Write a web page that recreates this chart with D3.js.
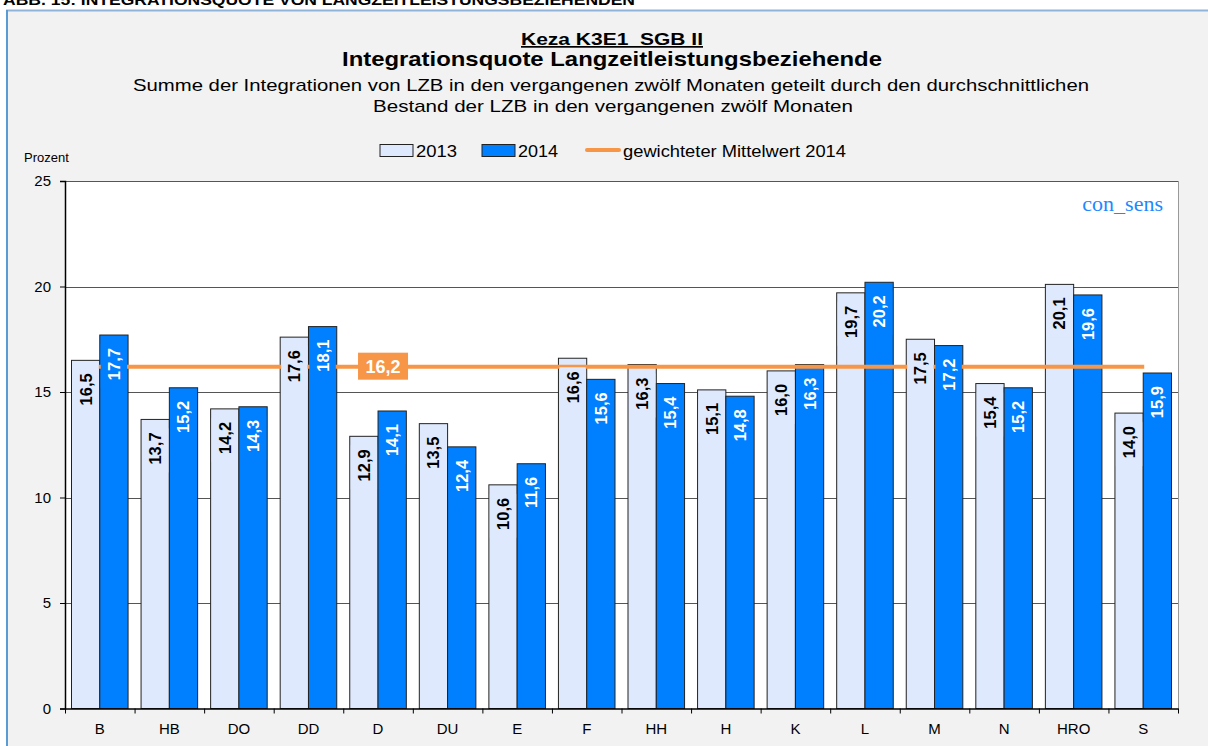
<!DOCTYPE html>
<html>
<head>
<meta charset="utf-8">
<script src="https://cdn.jsdelivr.net/npm/d3@7/dist/d3.min.js"></script>
<style>
  html, body { margin: 0; padding: 0; background: #fff; }
  svg { display: block; font-family: "Liberation Sans", Arial, sans-serif; }
</style>
</head>
<body>
<div id="chart"></div>
<script>
  // Werte
  const categories = ['B', 'HB', 'DO', 'DD', 'D', 'DU', 'E', 'F', 'HH', 'H', 'K', 'L', 'M', 'N', 'HRO', 'S'];
  const values2013 = [16.5, 13.7, 14.2, 17.6, 12.9, 13.5, 10.6, 16.6, 16.3, 15.1, 16.0, 19.7, 17.5, 15.4, 20.1, 14.0];
  const values2014 = [17.7, 15.2, 14.3, 18.1, 14.1, 12.4, 11.6, 15.6, 15.4, 14.8, 16.3, 20.2, 17.2, 15.2, 19.6, 15.9];
  const meanValue = 16.2;
  const yTicks = [0, 5, 10, 15, 20, 25];
  const seriesNames = ['2013', '2014'];

  const W = 1208, H = 746;
  const plot = { left: 65, right: 1178, top: 181, bottom: 708.5 };
  const fmt = v => d3.format('.1f')(v).replace('.', ',');

  const svg = d3.select('#chart').append('svg')
    .attr('width', W).attr('height', H);

  // Seitenkopf (im Original oben abgeschnitten)
  svg.append('text')
    .attr('x', 3).attr('y', 5)
    .attr('font-size', 14).attr('font-weight', 'bold')
    .attr('textLength', 632).attr('lengthAdjust', 'spacingAndGlyphs')
    .text('ABB. 15:  INTEGRATIONSQUOTE VON LANGZEITLEISTUNGSBEZIEHENDEN');

  // Panel
  svg.append('rect')
    .attr('x', 7).attr('y', 11).attr('width', W).attr('height', H)
    .attr('fill', '#f2f2f2');
  svg.append('line')
    .attr('x1', 6).attr('x2', W).attr('y1', 10.5).attr('y2', 10.5)
    .attr('stroke', '#8fb3d9').attr('stroke-width', 2);
  svg.append('line')
    .attr('x1', 7).attr('x2', 7).attr('y1', 10).attr('y2', H)
    .attr('stroke', '#5b9bd5').attr('stroke-width', 2);

  // Titel
  const cx = 612;
  svg.append('text')
    .attr('x', cx).attr('y', 45).attr('text-anchor', 'middle')
    .attr('font-size', 17).attr('font-weight', 'bold')
    .attr('text-decoration', 'underline')
    .attr('textLength', 182).attr('lengthAdjust', 'spacingAndGlyphs')
    .text('Keza K3E1\u00a0 SGB\u00a0II');
  svg.append('text')
    .attr('x', cx).attr('y', 66).attr('text-anchor', 'middle')
    .attr('font-size', 21).attr('font-weight', 'bold')
    .attr('textLength', 540).attr('lengthAdjust', 'spacingAndGlyphs')
    .text('Integrationsquote Langzeitleistungsbeziehende');
  svg.append('text')
    .attr('x', 611).attr('y', 91).attr('text-anchor', 'middle')
    .attr('font-size', 17)
    .attr('textLength', 956).attr('lengthAdjust', 'spacingAndGlyphs')
    .text('Summe der Integrationen von LZB in den vergangenen zwölf Monaten geteilt durch den durchschnittlichen');
  svg.append('text')
    .attr('x', 613).attr('y', 112).attr('text-anchor', 'middle')
    .attr('font-size', 17)
    .attr('textLength', 480).attr('lengthAdjust', 'spacingAndGlyphs')
    .text('Bestand der LZB in den vergangenen zwölf Monaten');

  // Legende
  const colors = { '2013': '#dfe9fd', '2014': '#0080ff' };
  const legend = svg.append('g').attr('font-size', 16);
  [[380, '2013', 41], [482, '2014', 40]].forEach(([lx, name, tl]) => {
    legend.append('rect')
      .attr('x', lx).attr('y', 144.5).attr('width', 33).attr('height', 12)
      .attr('fill', colors[name]).attr('stroke', '#222').attr('stroke-width', 1);
    legend.append('text')
      .attr('x', lx + 36).attr('y', 157)
      .attr('textLength', tl).attr('lengthAdjust', 'spacingAndGlyphs')
      .text(name);
  });
  legend.append('line')
    .attr('x1', 587).attr('x2', 619).attr('y1', 150).attr('y2', 150)
    .attr('stroke', '#f79646').attr('stroke-width', 4).attr('stroke-linecap', 'round');
  legend.append('text')
    .attr('x', 623).attr('y', 157)
    .attr('textLength', 223).attr('lengthAdjust', 'spacingAndGlyphs')
    .text('gewichteter Mittelwert 2014');

  svg.append('text')
    .attr('x', 24).attr('y', 162).attr('font-size', 13)
    .text('Prozent');

  // Skalen
  const x = d3.scaleBand().domain(categories).range([plot.left, plot.right]).padding(0);
  const x1 = d3.scaleBand().domain(seriesNames).range([6.5, x.bandwidth() - 6.5]).padding(0);
  const y = d3.scaleLinear().domain([0, 25]).range([plot.bottom, plot.top]);

  // Zeichenfläche
  svg.append('rect')
    .attr('x', plot.left).attr('y', plot.top)
    .attr('width', plot.right - plot.left).attr('height', plot.bottom - plot.top)
    .attr('fill', '#fff');

  // Gitternetz
  svg.append('g').selectAll('line')
    .data(yTicks.filter(d => d > 0))
    .join('line')
    .attr('x1', plot.left).attr('x2', plot.right)
    .attr('y1', d => Math.round(y(d)) + 0.5).attr('y2', d => Math.round(y(d)) + 0.5)
    .attr('stroke', '#555').attr('stroke-width', 1.2);

  svg.append('line')
    .attr('x1', plot.right + 0.5).attr('x2', plot.right + 0.5)
    .attr('y1', plot.top).attr('y2', plot.bottom)
    .attr('stroke', '#999');

  // Balken
  const rows = categories.map((c, i) => ({ cat: c, vals: [
    { s: '2013', v: values2013[i] },
    { s: '2014', v: values2014[i] }
  ] }));

  const groups = svg.append('g').selectAll('g')
    .data(rows)
    .join('g')
    .attr('transform', d => `translate(${x(d.cat)},0)`);

  groups.selectAll('rect')
    .data(d => d.vals)
    .join('rect')
    .attr('x', d => x1(d.s))
    .attr('y', d => y(d.v))
    .attr('width', x1.bandwidth())
    .attr('height', d => y(0) - y(d.v))
    .attr('fill', d => colors[d.s])
    .attr('stroke', '#222').attr('stroke-width', 1);

  // Mittelwertlinie
  const first = categories[0], last = categories[categories.length - 1];
  svg.append('line')
    .attr('x1', x(first) + x.bandwidth() / 2 - 1)
    .attr('x2', x(last) + x.bandwidth() / 2 + 1)
    .attr('y1', y(meanValue)).attr('y2', y(meanValue))
    .attr('stroke', '#f79646').attr('stroke-width', 4);

  // Datenbeschriftungen (über der Linie)
  const labelGroups = svg.append('g').selectAll('g')
    .data(rows)
    .join('g')
    .attr('transform', d => `translate(${x(d.cat)},0)`);

  const labelSel = labelGroups.selectAll('g.lbl')
    .data(d => d.vals)
    .join('g')
    .attr('class', 'lbl')
    .attr('transform', d => `translate(${x1(d.s) + x1.bandwidth() / 2},${y(d.v) + 13}) rotate(-90)`);

  labelSel.append('rect')
    .attr('x', d => -fmt(d.v).length * 9 - 4)
    .attr('y', -x1.bandwidth() / 2 + 1)
    .attr('width', d => fmt(d.v).length * 9 + 8)
    .attr('height', x1.bandwidth() - 2)
    .attr('fill', d => colors[d.s]);

  labelSel.append('text')
    .attr('text-anchor', 'end')
    .attr('dy', '0.36em')
    .attr('font-size', 16.5).attr('font-weight', 'bold')
    .attr('fill', d => d.s === '2013' ? '#000' : '#fff')
    .text(d => fmt(d.v));

  // Mittelwert-Label
  const mx = x(categories[4]) + x.bandwidth() / 2 + 5;
  svg.append('rect')
    .attr('x', mx - 25).attr('y', y(meanValue) - 14)
    .attr('width', 50).attr('height', 27)
    .attr('fill', '#f79646');
  svg.append('text')
    .attr('x', mx).attr('y', y(meanValue))
    .attr('dy', '0.36em').attr('text-anchor', 'middle')
    .attr('font-size', 18).attr('font-weight', 'bold').attr('fill', '#fff')
    .text(fmt(meanValue));

  // Achsen
  const yAxis = d3.axisLeft(y).tickValues(yTicks).tickSize(5).tickFormat(d => d);
  const gy = svg.append('g').attr('transform', `translate(${plot.left},0)`).call(yAxis)
    .attr('font-size', 15).attr('font-family', '"Liberation Sans", Arial, sans-serif');
  gy.select('.domain').attr('stroke', '#000').attr('stroke-width', 1.5);
  gy.selectAll('.tick line').attr('stroke', '#000');
  gy.selectAll('.tick text').attr('x', -14).attr('fill', '#000');

  const xAxis = d3.axisBottom(x).tickSize(0);
  const gx = svg.append('g').attr('transform', `translate(0,${plot.bottom})`).call(xAxis)
    .attr('font-size', 15).attr('font-family', '"Liberation Sans", Arial, sans-serif');
  gx.select('.domain').attr('stroke', '#000').attr('stroke-width', 1.5);
  gx.selectAll('.tick text').attr('y', 15).attr('fill', '#000');

  // Trennstriche zwischen Kategorien
  svg.append('g').selectAll('line')
    .data(categories.map(c => x(c)).concat([plot.right]))
    .join('line')
    .attr('x1', d => d + 0.5).attr('x2', d => d + 0.5)
    .attr('y1', plot.bottom).attr('y2', plot.bottom + 5)
    .attr('stroke', '#000');

  // Logo
  svg.append('text')
    .attr('x', 1163).attr('y', 211).attr('text-anchor', 'end')
    .attr('font-family', '"Liberation Serif", "Times New Roman", serif')
    .attr('font-size', 22).attr('fill', '#1e88ff')
    .text('con_sens');
</script>
</body>
</html>
